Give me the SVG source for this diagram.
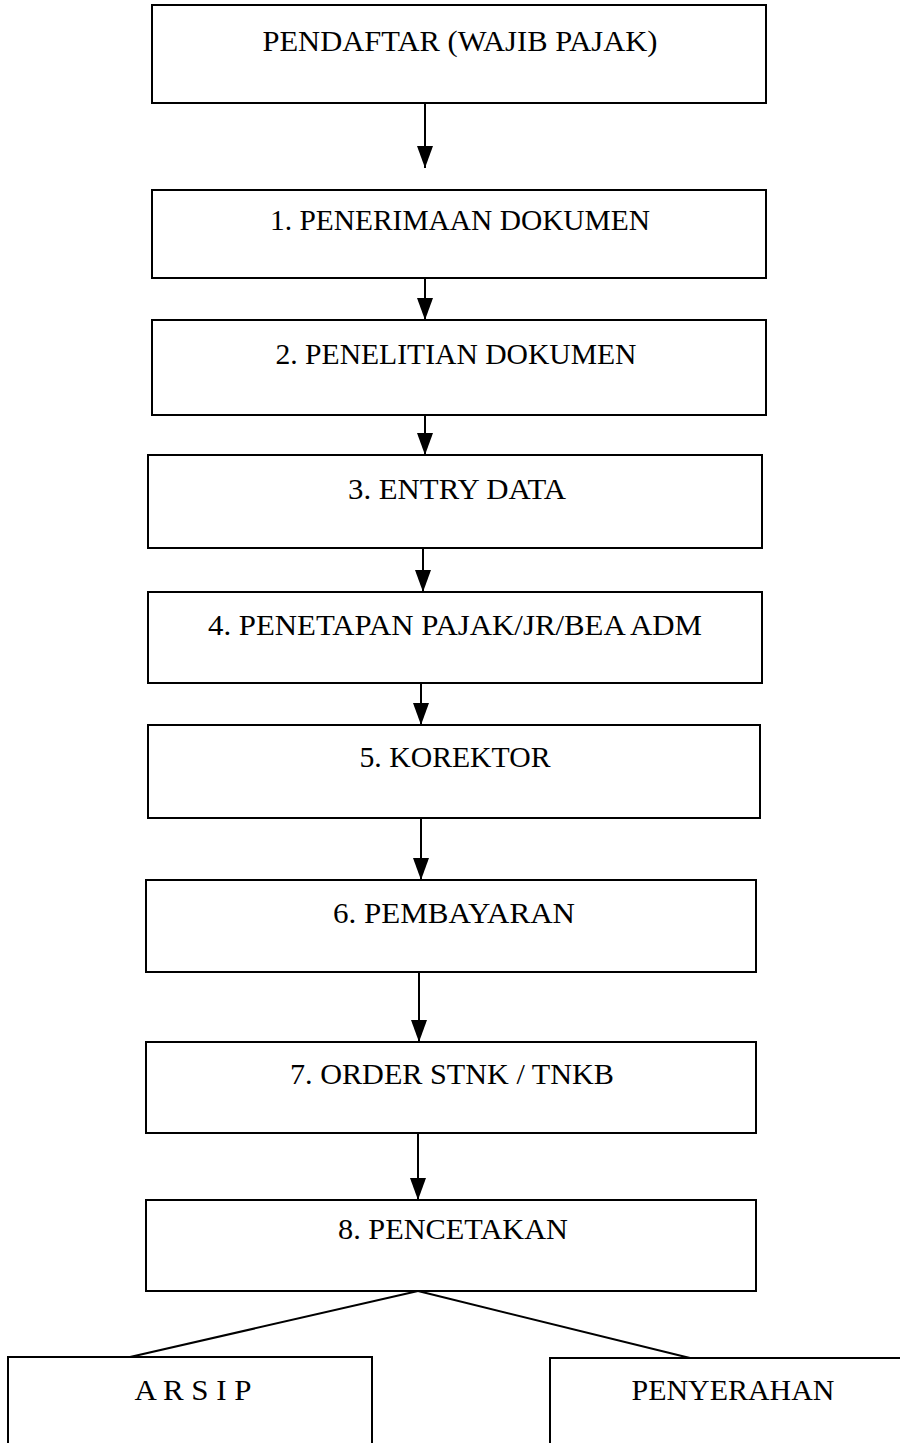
<svg xmlns="http://www.w3.org/2000/svg" width="900" height="1443" viewBox="0 0 900 1443">
<style>
.box{fill:#fff;stroke:#000;stroke-width:2}
.t{font-family:"Liberation Serif","Times New Roman",serif;font-size:30px;fill:#000;text-anchor:middle}
.c{stroke:#000;stroke-width:2;fill:none}
</style>
<defs>
<marker id="a" markerUnits="userSpaceOnUse" markerWidth="24" markerHeight="18" refX="22" refY="9" orient="auto" viewBox="0 0 24 18">
<path d="M0,1 L22,9 L0,17 Z" fill="#000"/>
</marker>
</defs>
<rect width="900" height="1443" fill="#fff"/>
<g id="n0"><rect class="box" x="152" y="5" width="614" height="98"/><text class="t" x="460" y="51" textLength="395" lengthAdjust="spacingAndGlyphs">PENDAFTAR (WAJIB PAJAK)</text></g>
<g id="n1"><rect class="box" x="152" y="190" width="614" height="88"/><text class="t" x="460" y="230" textLength="380" lengthAdjust="spacingAndGlyphs">1. PENERIMAAN DOKUMEN</text></g>
<g id="n2"><rect class="box" x="152" y="320" width="614" height="95"/><text class="t" x="456" y="364" textLength="361" lengthAdjust="spacingAndGlyphs">2. PENELITIAN DOKUMEN</text></g>
<g id="n3"><rect class="box" x="148" y="455" width="614" height="93"/><text class="t" x="457" y="499" textLength="218" lengthAdjust="spacingAndGlyphs">3. ENTRY DATA</text></g>
<g id="n4"><rect class="box" x="148" y="592" width="614" height="91"/><text class="t" x="455" y="635" textLength="494" lengthAdjust="spacingAndGlyphs">4. PENETAPAN PAJAK/JR/BEA ADM</text></g>
<g id="n5"><rect class="box" x="148" y="725" width="612" height="93"/><text class="t" x="455" y="767" textLength="191" lengthAdjust="spacingAndGlyphs">5. KOREKTOR</text></g>
<g id="n6"><rect class="box" x="146" y="880" width="610" height="92"/><text class="t" x="454" y="923" textLength="242" lengthAdjust="spacingAndGlyphs">6. PEMBAYARAN</text></g>
<g id="n7"><rect class="box" x="146" y="1042" width="610" height="91"/><text class="t" x="452" y="1084" textLength="324" lengthAdjust="spacingAndGlyphs">7. ORDER STNK / TNKB</text></g>
<g id="n8"><rect class="box" x="146" y="1200" width="610" height="91"/><text class="t" x="453" y="1239" textLength="230" lengthAdjust="spacingAndGlyphs">8. PENCETAKAN</text></g>
<g id="n9"><rect class="box" x="8" y="1357" width="364" height="100"/><text class="t" x="193" y="1400" textLength="117" lengthAdjust="spacingAndGlyphs">A R S I P</text></g>
<g id="n10"><rect class="box" x="550" y="1358" width="360" height="100"/><text class="t" x="733" y="1400" textLength="203" lengthAdjust="spacingAndGlyphs">PENYERAHAN</text></g>
<g id="connectors">
<line class="c" x1="425" y1="103" x2="425" y2="168" marker-end="url(#a)"/>
<line class="c" x1="425" y1="278" x2="425" y2="320" marker-end="url(#a)"/>
<line class="c" x1="425" y1="415" x2="425" y2="455" marker-end="url(#a)"/>
<line class="c" x1="423" y1="548" x2="423" y2="592" marker-end="url(#a)"/>
<line class="c" x1="421" y1="683" x2="421" y2="725" marker-end="url(#a)"/>
<line class="c" x1="421" y1="818" x2="421" y2="880" marker-end="url(#a)"/>
<line class="c" x1="419" y1="972" x2="419" y2="1042" marker-end="url(#a)"/>
<line class="c" x1="418" y1="1133" x2="418" y2="1200" marker-end="url(#a)"/>
<line class="c" x1="418" y1="1291" x2="130" y2="1357"/>
<line class="c" x1="418" y1="1291" x2="690" y2="1358"/>
</g>
</svg>
